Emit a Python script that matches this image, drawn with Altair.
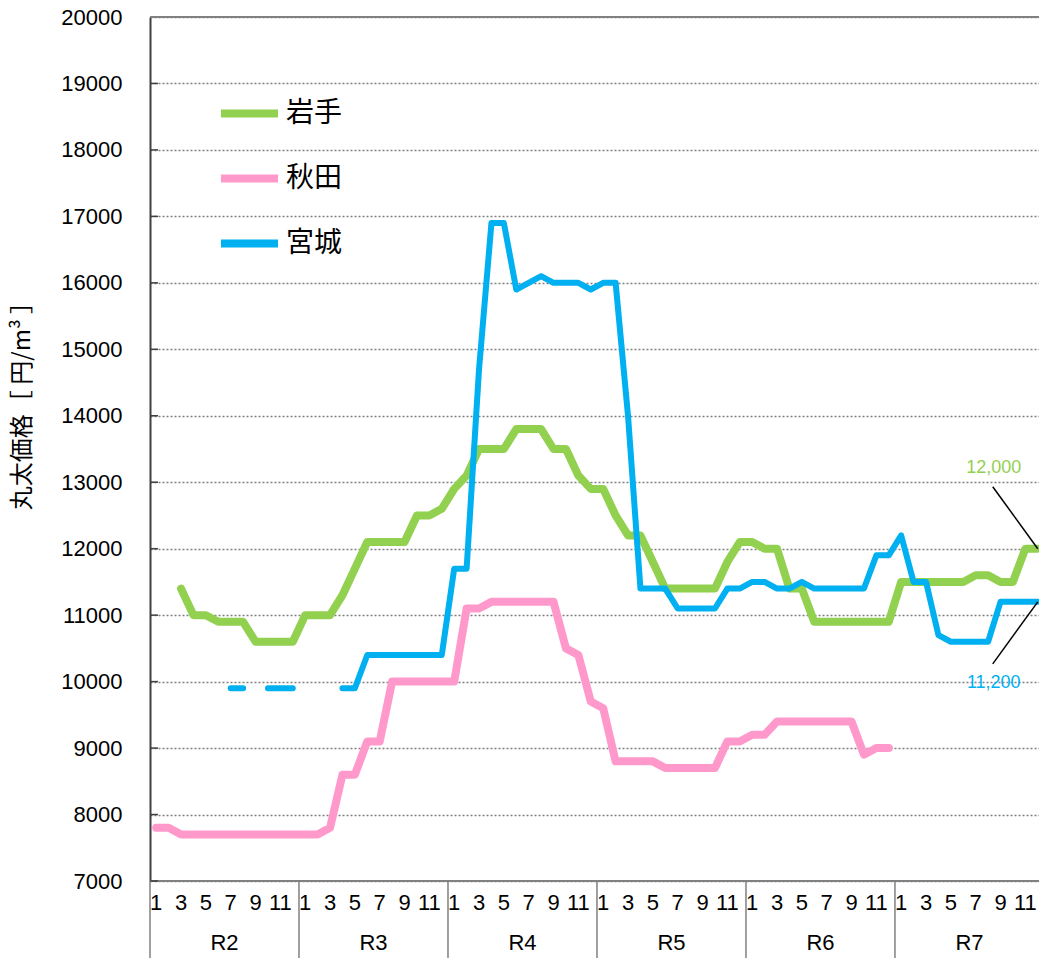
import altair as alt
import pandas as pd

# ---------------- data ----------------
years = ["R2", "R3", "R4", "R5", "R6", "R7"]
month_ticks = [1, 3, 5, 7, 9, 11]
series = ["岩手", "秋田", "宮城"]
colors = ["#92D050", "#FF99CC", "#00B0F0"]
y_ticks = list(range(7000, 20001, 1000))

iwate = [None, None, 11400, 11000, 11000, 10900, 10900, 10900, 10600, 10600, 10600, 10600,
         11000, 11000, 11000, 11300, 11700, 12100, 12100, 12100, 12100, 12500, 12500, 12600,
         12900, 13100, 13500, 13500, 13500, 13800, 13800, 13800, 13500, 13500, 13100, 12900,
         12900, 12500, 12200, 12200, 11800, 11400, 11400, 11400, 11400, 11400, 11800, 12100,
         12100, 12000, 12000, 11400, 11400, 10900, 10900, 10900, 10900, 10900, 10900, 10900,
         11500, 11500, 11500, 11500, 11500, 11500, 11600, 11600, 11500, 11500, 12000, 12000]

akita = [7800, 7800, 7700, 7700, 7700, 7700, 7700, 7700, 7700, 7700, 7700, 7700,
         7700, 7700, 7800, 8600, 8600, 9100, 9100, 10000, 10000, 10000, 10000, 10000,
         10000, 11100, 11100, 11200, 11200, 11200, 11200, 11200, 11200, 10500, 10400, 9700,
         9600, 8800, 8800, 8800, 8800, 8700, 8700, 8700, 8700, 8700, 9100, 9100,
         9200, 9200, 9400, 9400, 9400, 9400, 9400, 9400, 9400, 8900, 9000, 9000,
         None, None, None, None, None, None, None, None, None, None, None, None]

miyagi = [None, None, None, None, None, None, 9900, 9900, None, 9900, 9900, 9900,
          None, None, None, 9900, 9900, 10400, 10400, 10400, 10400, 10400, 10400, 10400,
          11700, 11700, 14700, 16900, 16900, 15900, 16000, 16100, 16000, 16000, 16000, 15900,
          16000, 16000, 14000, 11400, 11400, 11400, 11100, 11100, 11100, 11100, 11400, 11400,
          11500, 11500, 11400, 11400, 11500, 11400, 11400, 11400, 11400, 11400, 11900, 11900,
          12200, 11500, 11500, 10700, 10600, 10600, 10600, 10600, 11200, 11200, 11200, 11200]

# ---------------- tables ----------------
rows = []
for name, vals in zip(series, [iwate, akita, miyagi]):
    for i, v in enumerate(vals):
        rows.append({"series": name, "t": i + 0.5, "value": v})
df = pd.DataFrame(rows)

n_months = 12 * len(years)
month_df = pd.DataFrame([
    {"t": 12 * k + m - 0.5, "label": str(m)}
    for k in range(len(years)) for m in month_ticks
])
year_df = pd.DataFrame([{"t": 12 * k + 6, "label": y} for k, y in enumerate(years)])
sep_df = pd.DataFrame({"t": [12 * k for k in range(len(years) + 1)]})
tick_df = pd.DataFrame({"value": y_ticks[:-1]})

last_i = pd.DataFrame([{"series": "岩手", "t": len(iwate) - 0.5, "value": iwate[-1],
                        "label": f"{iwate[-1]:,}"}])
last_m = pd.DataFrame([{"series": "宮城", "t": len(miyagi) - 0.5, "value": miyagi[-1],
                        "label": f"{miyagi[-1]:,}"}])

# ---------------- scales / axes ----------------
FONT = "Liberation Sans"
JFONT = "Noto Sans CJK JP"
# the right end of the last year is cut off in the original picture
xs = alt.Scale(domain=[0, n_months - 0.4], nice=False, zero=False)
ys = alt.Scale(domain=[7000, 20000], nice=False, zero=False)
cs = alt.Scale(domain=series, range=colors)

yaxis = alt.Axis(values=y_ticks, format="d", title=None, grid=True, gridDash=[2, 2],
                 gridColor="#7f7f7f", gridWidth=1.5, domainColor="#404040", domainWidth=2,
                 ticks=False, labelFont=FONT, labelFontSize=22, labelColor="black",
                 labelPadding=28)

X = alt.X("t:Q", scale=xs, axis=None)
Y = alt.Y("value:Q", scale=ys, axis=yaxis)

legend = alt.Legend(orient="none", legendX=67, legendY=64, title=None, direction="vertical",
                    symbolType="stroke", symbolSize=3249, symbolStrokeWidth=8,
                    labelFont=JFONT, labelFontSize=28, labelColor="black",
                    labelOffset=4, rowPadding=16, padding=0, labelLimit=0)

# ---------------- layers ----------------
top_rule = alt.Chart(pd.DataFrame({"value": [y_ticks[-1]]})).mark_rule(
    color="#808080", strokeWidth=2).encode(y=Y)
bottom_rule = alt.Chart(pd.DataFrame({"value": [y_ticks[0]]})).mark_rule(
    color="#808080", strokeWidth=2).encode(y=Y)
inner_ticks = alt.Chart(tick_df).mark_rule(color="#404040", strokeWidth=1.5).encode(
    y=Y, x=alt.value(0), x2=alt.value(8))

widths = {"岩手": 8, "秋田": 8, "宮城": 6}
lines = []
for name in series:
    lines.append(
        alt.Chart(df).transform_filter(alt.datum.series == name)
        .mark_line(strokeWidth=widths[name], strokeCap="round", strokeJoin="round")
        .encode(x=X, y=Y, color=alt.Color("series:N", scale=cs, legend=legend))
    )

seps = alt.Chart(sep_df).mark_rule(color="#808080", strokeWidth=1.5).encode(
    x=X, y=alt.value(864), y2=alt.value(941))
months = alt.Chart(month_df).mark_text(font=FONT, fontSize=22, color="black",
                                       baseline="middle", align="center").encode(
    x=X, y=alt.value(886), text="label:N")
yrs = alt.Chart(year_df).mark_text(font=FONT, fontSize=22, color="black",
                                   baseline="middle", align="center").encode(
    x=X, y=alt.value(926), text="label:N")

ytitle = alt.Chart(pd.DataFrame({"label": ["丸太価格［ 円/m³ ］"]})).mark_text(
    font=JFONT, fontSize=24, color="black", angle=270, baseline="middle", align="center"
).encode(x=alt.value(-127), y=alt.value(383), text="label:N")

ann_i_line = alt.Chart(last_i).mark_rule(color="black", strokeWidth=1.5,
                                         x2Offset=-45, y2Offset=-62).encode(
    x=X, y=Y, x2="t:Q", y2="value:Q")
ann_i_text = alt.Chart(last_i).mark_text(font=FONT, fontSize=18, dx=-44, dy=-81,
                                         baseline="middle", align="center").encode(
    x=X, y=Y, text="label:N", color=alt.Color("series:N", scale=cs, legend=legend))
ann_m_line = alt.Chart(last_m).mark_rule(color="black", strokeWidth=1.5,
                                         x2Offset=-45, y2Offset=62).encode(
    x=X, y=Y, x2="t:Q", y2="value:Q")
ann_m_text = alt.Chart(last_m).mark_text(font=FONT, fontSize=18, dx=-44, dy=81,
                                         baseline="middle", align="center").encode(
    x=X, y=Y, text="label:N", color=alt.Color("series:N", scale=cs, legend=legend))

chart = alt.layer(
    top_rule, bottom_rule, inner_ticks, *lines, seps, months, yrs, ytitle,
    ann_i_line, ann_i_text, ann_m_line, ann_m_text
).properties(
    width=889, height=864,
    autosize=alt.AutoSizeParams(type="none"),
    padding={"left": 142, "top": 9, "right": 0, "bottom": 77},
).configure_view(stroke=None).configure(background="white")

chart.save("out.html", embed_options={"renderer": "svg", "actions": False})
